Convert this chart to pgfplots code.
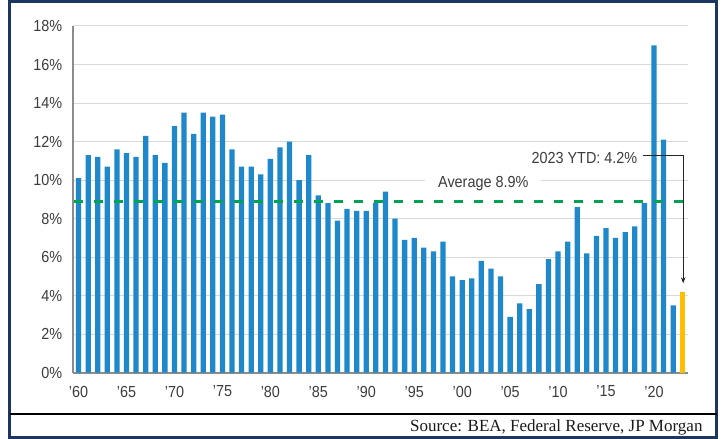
\documentclass[border=0pt]{standalone}
\usepackage{pgfplots}
\pgfplotsset{compat=1.18}
\usepackage{pgfplotstable}
\usetikzlibrary{arrows.meta}
\usepackage{fontspec}
\setmainfont{Liberation Sans}[FakeStretch=0.9]
\newfontfamily\srcfont{Liberation Serif}

\definecolor{barblue}{RGB}{31,136,202}
\definecolor{ytdyellow}{RGB}{255,190,0}
\definecolor{avggreen}{RGB}{0,163,82}
\definecolor{gridgray}{RGB}{217,217,217}
\definecolor{axisgray}{RGB}{140,140,140}
\definecolor{txtgray}{RGB}{60,60,60}
\definecolor{framenavy}{RGB}{28,54,96}

% personal saving rate, %
\pgfplotstableread{
year rate
1960 10.1
1961 11.3
1962 11.2
1963 10.7
1964 11.6
1965 11.4
1966 11.2
1967 12.3
1968 11.3
1969 10.9
1970 12.8
1971 13.5
1972 12.4
1973 13.5
1974 13.3
1975 13.4
1976 11.6
1977 10.7
1978 10.7
1979 10.3
1980 11.1
1981 11.7
1982 12.0
1983 10.0
1984 11.3
1985 9.2
1986 8.8
1987 7.9
1988 8.5
1989 8.4
1990 8.4
1991 8.8
1992 9.4
1993 8.0
1994 6.9
1995 7.0
1996 6.5
1997 6.3
1998 6.8
1999 5.0
2000 4.8
2001 4.9
2002 5.8
2003 5.4
2004 5.0
2005 2.9
2006 3.6
2007 3.3
2008 4.6
2009 5.9
2010 6.3
2011 6.8
2012 8.6
2013 6.2
2014 7.1
2015 7.5
2016 7.0
2017 7.3
2018 7.6
2019 8.8
2020 17.0
2021 12.1
2022 3.5
}\savedata

\begin{document}
\begin{tikzpicture}
\begin{axis}[
  at={(73bp,66.3bp)}, anchor=south west,
  scale only axis, width=615bp, height=346.7bp,
  xmin=1959.42, xmax=2023.55, ymin=0, ymax=18,
  axis x line*=bottom, axis y line*=left,
  every outer x axis line/.append style={-},
  every outer y axis line/.append style={-},
  axis line style={draw=axisgray, line width=1.6bp},
  xtick={1960,1965,...,2020},
  xticklabels={'60,'65,'70,'75,'80,'85,'90,'95,'00,'05,'10,'15,'20},
  ytick={0,2,...,18},
  yticklabels={0\%,2\%,4\%,6\%,8\%,10\%,12\%,14\%,16\%,18\%},
  major tick length=0pt,
  ymajorgrids, grid style={draw=gridgray, line width=1bp},
  tick label style={font=\fontsize{16bp}{18bp}\selectfont, text=txtgray},
  y tick label style={anchor=east, inner sep=0pt, xshift=-10.5bp},
  x tick label style={anchor=north, inner sep=0pt, yshift=-13bp},
  clip=false,
]
\addplot[ybar, bar width=0.55, bar shift=0pt, fill=barblue, draw=none] table {\savedata};
\addplot[ybar, bar width=0.55, bar shift=0pt, fill=ytdyellow, draw=none] coordinates {(2023,4.2)};

% long-run average
\addplot[avggreen, line width=2.6bp, dash pattern=on 9bp off 11bp] coordinates {(1959.5,8.9) (2023.55,8.9)};

\node[fill=white, text=txtgray, inner xsep=13bp, inner ysep=1bp,
      font=\fontsize{16bp}{18bp}\selectfont] at (axis cs:2002.2,9.83) {Average 8.9\%};
\node[text=txtgray, inner sep=0pt, font=\fontsize{16bp}{18bp}\selectfont]
  at (axis cs:2012.75,11.17) {2023 YTD: 4.2\%};
\draw[black!85, line width=1bp, -{Stealth[length=6bp,width=4.5bp]}]
  (axis cs:2018.83,11.3) -- (axis cs:2023.05,11.3) -- (axis cs:2023.05,4.64);
\end{axis}

% frame and source line
\draw[framenavy, line width=2.8bp] (9.7bp,1.2bp) rectangle (716.7bp,437.3bp);
\draw[black, line width=2.2bp] (9.7bp,25.2bp) -- (716.7bp,25.2bp);
\node[anchor=base east, inner sep=0pt, text=black!90, font=\srcfont\fontsize{17bp}{19bp}\selectfont]
  at (702.7bp,7.3bp) {Source: BEA, Federal Reserve, JP Morgan};

\pgfresetboundingbox
\path[use as bounding box] (0,0) rectangle (725bp,439bp);
\end{tikzpicture}
\end{document}
